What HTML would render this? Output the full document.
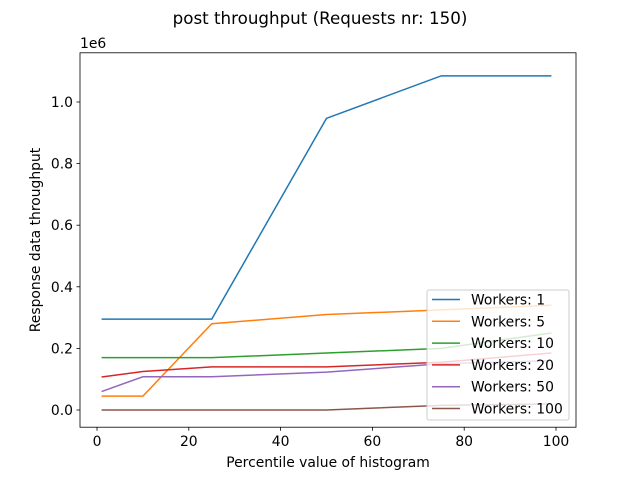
<!DOCTYPE html>
<html><head><meta charset="utf-8"><style>
body{margin:0;background:#fff;}
svg text{font-family:"DejaVu Sans","Liberation Sans",sans-serif;}
</style></head><body>
<svg id="chart" width="640" height="480" xmlns="http://www.w3.org/2000/svg">
<rect width="640" height="480" fill="#fff"/>
<text x="320" y="24" font-size="16.7" text-anchor="middle">post throughput (Requests nr: 150)</text>
<g id="plot"></g>
</svg>
<script>
const xValues=[1,10,25,50,75,99];
const seriesNames=["Workers: 1","Workers: 5","Workers: 10","Workers: 20","Workers: 50","Workers: 100"];
const w1=[0.295,0.295,0.295,0.947,1.085,1.085];
const w5=[0.045,0.045,0.28,0.31,0.325,0.34];
const w10=[0.17,0.17,0.17,0.185,0.2,0.25];
const w20=[0.107,0.125,0.14,0.14,0.155,0.185];
const w50=[0.06,0.108,0.108,0.123,0.15,0.16];
const w100=[0,0,0,0,0.015,0.02];
const xTicks=[0,20,40,60,80,100];
const yTicks=[0,0.2,0.4,0.6,0.8,1.0];
const yTickLabels=["0.0","0.2","0.4","0.6","0.8","1.0"];
const colors=["#1f77b4","#ff7f0e","#2ca02c","#d62728","#9467bd","#8c564b"];
const series=[w1,w5,w10,w20,w50,w100];
const NS="http://www.w3.org/2000/svg";
const L=80,R=576,T=52.8,B=427.2;
const FS=13.9;
const xs=v=>97+(v/100)*459;
const ys=v=>410-v*308;
const g=document.getElementById('plot');
function mk(t,a){const e=document.createElementNS(NS,t);for(const k in a)e.setAttribute(k,a[k]);g.appendChild(e);return e;}
xTicks.forEach(t=>{
 const l=mk('line',{x1:xs(t),x2:xs(t),y1:B,y2:B+3.5,stroke:'#000','stroke-width':0.8});
 
 
 const tx=mk('text',{x:xs(t),y:B+19,'font-size':FS,'text-anchor':'middle'});tx.textContent=t;
 
 
});
yTicks.forEach((t,i)=>{
 const l=mk('line',{x1:L-3.5,x2:L,y1:ys(t),y2:ys(t),stroke:'#000','stroke-width':0.8});
 
 
 const tx=mk('text',{x:L-7,y:ys(t)+5,'font-size':FS,'text-anchor':'end'});tx.textContent=yTickLabels[i];
 
 
});
const off=mk('text',{x:L,y:T-5,'font-size':FS});off.textContent='1e6';


const xl=mk('text',{x:(L+R)/2,y:467,'font-size':FS,'text-anchor':'middle'});xl.textContent='Percentile value of histogram';


const yl=mk('text',{x:0,y:0,'font-size':FS,'text-anchor':'middle',transform:`translate(40,${(T+B)/2}) rotate(-90)`});yl.textContent='Response data throughput';


series.forEach((s,i)=>{
 const p=mk('polyline',{points:s.map((v,j)=>xs(xValues[j])+','+ys(v)).join(' '),fill:'none',stroke:colors[i],'stroke-width':1.5});
 
 
});
const fr=mk('rect',{x:L,y:T,width:R-L,height:B-T,fill:'none',stroke:'#000','stroke-width':0.8});


const lg=mk('rect',{x:427,y:290,width:142,height:130,rx:2,fill:'#fff','fill-opacity':0.8,stroke:'#ccc','stroke-width':1});


seriesNames.forEach((n,i)=>{
 const y=299.5+i*21.8;
 const l=mk('line',{x1:432,x2:460,y1:y,y2:y,stroke:colors[i],'stroke-width':1.5});
 
 
 const t=mk('text',{x:471,y:y+5,'font-size':FS});t.textContent=n;
 
 
});
</script>
</body></html>
